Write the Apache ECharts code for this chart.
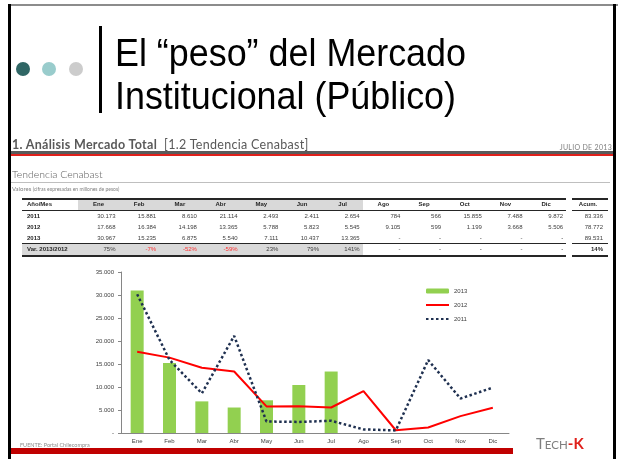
<!DOCTYPE html>
<html>
<head>
<meta charset="utf-8">
<script src="https://cdn.jsdelivr.net/npm/echarts@6/dist/echarts.min.js"></script>
<style>
html, body { margin: 0; padding: 0; width: 618px; height: 459px; overflow: hidden; background: #fff; }
#chart { position: absolute; left: 0; top: 0; width: 618px; height: 459px; }
.abs { position: absolute; white-space: nowrap; }
.title { font-family: "Liberation Sans", Arial, sans-serif; font-size: 39px; line-height: 43px; color: #000; transform: scaleX(0.92); transform-origin: left top; }
.dot { position: absolute; width: 14px; height: 14px; border-radius: 50%; }
.sec { font-family: Lato, "Open Sans", sans-serif; font-size: 12.5px; letter-spacing: 0.3px; color: #595959; }
.cell { position: absolute; font-family: "Liberation Sans", Arial, sans-serif; font-size: 6px; color: #404040; line-height: 8px; white-space: nowrap; }
.hline { position: absolute; background: #262626; }
</style>
</head>
<body>
<div id="chart"></div>
<div id="overlay"></div>
<script>
// table / chart data
const months = ["Ene", "Feb", "Mar", "Abr", "May", "Jun", "Jul", "Ago", "Sep", "Oct", "Nov", "Dic"];
const years = ["2011", "2012", "2013"];
const v2011 = [30173, 15881, 8610, 21114, 2493, 2411, 2654, 784, 566, 15855, 7488, 9872];
const v2012 = [17668, 16384, 14198, 13365, 5788, 5823, 5545, 9105, 599, 1199, 3668, 5506];
const v2013 = [30967, 15235, 6875, 5540, 7111, 10437, 13365, null, null, null, null, null];
const varPct = [75, -7, -52, -59, 23, 79, 141, null, null, null, null, null];
const acum = [83336, 78772, 89531];
const acumVar = 14;

function fmt(n) {
  if (n === null || n === undefined) return "-";
  return String(n).replace(/\B(?=(\d{3})+(?!\d))/g, ".");
}

// ---------- slide chrome ----------
const ov = document.getElementById("overlay");
function add(html) { ov.insertAdjacentHTML("beforeend", html); }

// frame
add('<div class="abs" style="left:8px;top:4px;width:610px;height:2px;background:#8c8c8c"></div>');
add('<div class="abs" style="left:8px;top:4px;width:3px;height:455px;background:#000"></div>');
add('<div class="abs" style="left:613px;top:4px;width:3px;height:455px;background:#000"></div>');

// dots + bar + title
add('<div class="dot" style="left:16px;top:62px;background:#2f6665"></div>');
add('<div class="dot" style="left:42px;top:62px;background:#99cccc"></div>');
add('<div class="dot" style="left:69px;top:62px;background:#cccccc"></div>');
add('<div class="abs" style="left:99px;top:26px;width:3px;height:87px;background:#000"></div>');
add('<div class="abs title" style="left:115px;top:31px">El “peso” del Mercado<br>Institucional (Público)</div>');

// section header
add('<div class="abs sec" style="left:12px;top:137px"><b>1. Análisis Mercado Total</b>&nbsp;&nbsp;[1.2 Tendencia Cenabast]</div>');
add('<div class="abs" style="right:6px;top:143px;font-family:Lato,sans-serif;font-size:7px;color:#7f7f7f;letter-spacing:0.3px">JULIO DE 2013</div>');
add('<div class="abs" style="left:11px;top:151px;width:602px;height:3px;background:#5a5a5a"></div>');
add('<div class="abs" style="left:11px;top:154px;width:602px;height:2px;background:#e0201b"></div>');

// sub header
add('<div class="abs" style="left:12px;top:168px;font-family:Lato,sans-serif;font-size:10.5px;color:#595959;font-weight:300">Tendencia Cenabast</div>');
add('<div class="abs" style="left:11px;top:182px;width:599px;height:1px;background:#bfbfbf"></div>');
add('<div class="abs" style="left:12px;top:185px;font-family:Lato,sans-serif;font-size:6px;color:#7f7f7f">Valores <span style="font-size:5px">(cifras expresadas en millones de pesos)</span></div>');

// ---------- table ----------
const colRight = months.map((m, i) => 115.5 + 40.7 * i);
const acumRight = 603;
const rowY = [204, 216, 227, 238, 249];
// backgrounds
add('<div class="abs" style="left:78px;top:199px;width:285px;height:11px;background:#d9d9d9"></div>');
add('<div class="abs" style="left:22px;top:243px;width:341px;height:12px;background:#d9d9d9"></div>');
// lines
[[198, 1.5], [210, 1], [243, 1], [255, 1.5]].forEach(([y, h]) => {
  add(`<div class="hline" style="left:22px;top:${y}px;width:544px;height:${h}px"></div>`);
  add(`<div class="hline" style="left:572px;top:${y}px;width:36px;height:${h}px"></div>`);
});
function cellR(txt, right, y, extra) {
  add(`<div class="cell" style="right:${618 - right}px;top:${y - 4}px;${extra || ""}">${txt}</div>`);
}
function cellL(txt, left, y, extra) {
  add(`<div class="cell" style="left:${left}px;top:${y - 4}px;${extra || ""}">${txt}</div>`);
}
function cellC(txt, center, y, extra) {
  add(`<div class="cell" style="left:${center - 20}px;width:40px;text-align:center;top:${y - 4}px;${extra || ""}">${txt}</div>`);
}
const bold = "font-weight:bold;color:#262626";
cellL("Año/Mes", 27, rowY[0], bold);
months.forEach((m, i) => cellC(m, colRight[i] - 17, rowY[0], bold));
cellC("Acum.", 588, rowY[0], bold);
[v2011, v2012, v2013].forEach((arr, r) => {
  cellL(years[r], 27, rowY[r + 1], bold);
  arr.forEach((v, i) => cellR(fmt(v), colRight[i], rowY[r + 1]));
  cellR(fmt(acum[r]), acumRight, rowY[r + 1]);
});
cellL("Var. 2013/2012", 27, rowY[4], bold);
varPct.forEach((v, i) => cellR(v === null ? "-" : v + "%", colRight[i], rowY[4], v !== null && v < 0 ? "color:#ff3333" : ""));
cellR(acumVar + "%", acumRight, rowY[4], bold);

// footer
add('<div class="abs" style="left:20px;top:442px;font-family:Lato,sans-serif;font-size:5.5px;color:#8c8c8c">FUENTE: Portal Chilecompra</div>');
add('<div class="abs" style="left:11px;top:448px;width:502px;height:6px;background:#c00000"></div>');
add('<div class="abs" style="left:536px;top:435px;font-family:Lato,sans-serif;color:#7f7f7f;font-size:15px;line-height:16px">T<span style="font-size:11.5px">ECH</span><b style="color:#e0201b">-K</b></div>');

// ---------- chart ----------
const chart = echarts.init(document.getElementById("chart"));
const option = {
  animation: false,
  grid: { left: 121, right: 109, top: 272, bottom: 26 },
  legend: {
    orient: "vertical",
    left: 420,
    top: 283,
    itemWidth: 23,
    itemHeight: 5,
    itemGap: 8,
    selectedMode: false,
    textStyle: { fontSize: 6, color: "#404040", fontFamily: "Liberation Sans" },
    data: [
      { name: "2013" },
      { name: "2012", itemStyle: { opacity: 0 } },
      { name: "2011", itemStyle: { opacity: 0 } }
    ]
  },
  xAxis: {
    type: "category",
    data: months,
    axisLine: { lineStyle: { color: "#868686", width: 1 } },
    axisTick: { length: 3, lineStyle: { color: "#868686" } },
    axisLabel: { fontSize: 6, color: "#404040", margin: 5, fontFamily: "Liberation Sans" }
  },
  yAxis: {
    type: "value",
    min: 0,
    max: 35000,
    interval: 5000,
    axisLine: { show: true, lineStyle: { color: "#868686" } },
    axisTick: { show: true, length: 3, lineStyle: { color: "#868686" } },
    splitLine: { show: false },
    axisLabel: {
      fontSize: 6,
      color: "#404040",
      margin: 7,
      fontFamily: "Liberation Sans",
      formatter: (v) => (v === 0 ? "-" : fmt(v))
    }
  },
  series: [
    {
      name: "2013",
      type: "bar",
      data: v2013,
      barWidth: 13,
      itemStyle: { color: "#92d050" }
    },
    {
      name: "2012",
      type: "line",
      data: v2012,
      symbol: "none",
      lineStyle: { color: "#ff0000", width: 2 },
      itemStyle: { color: "#ff0000" }
    },
    {
      name: "2011",
      type: "line",
      data: v2011,
      symbol: "none",
      lineStyle: { color: "#1f3050", width: 2.5, type: [2.5, 2.5] },
      itemStyle: { color: "#1f3050" }
    }
  ]
};
chart.setOption(option);
</script>
</body>
</html>
